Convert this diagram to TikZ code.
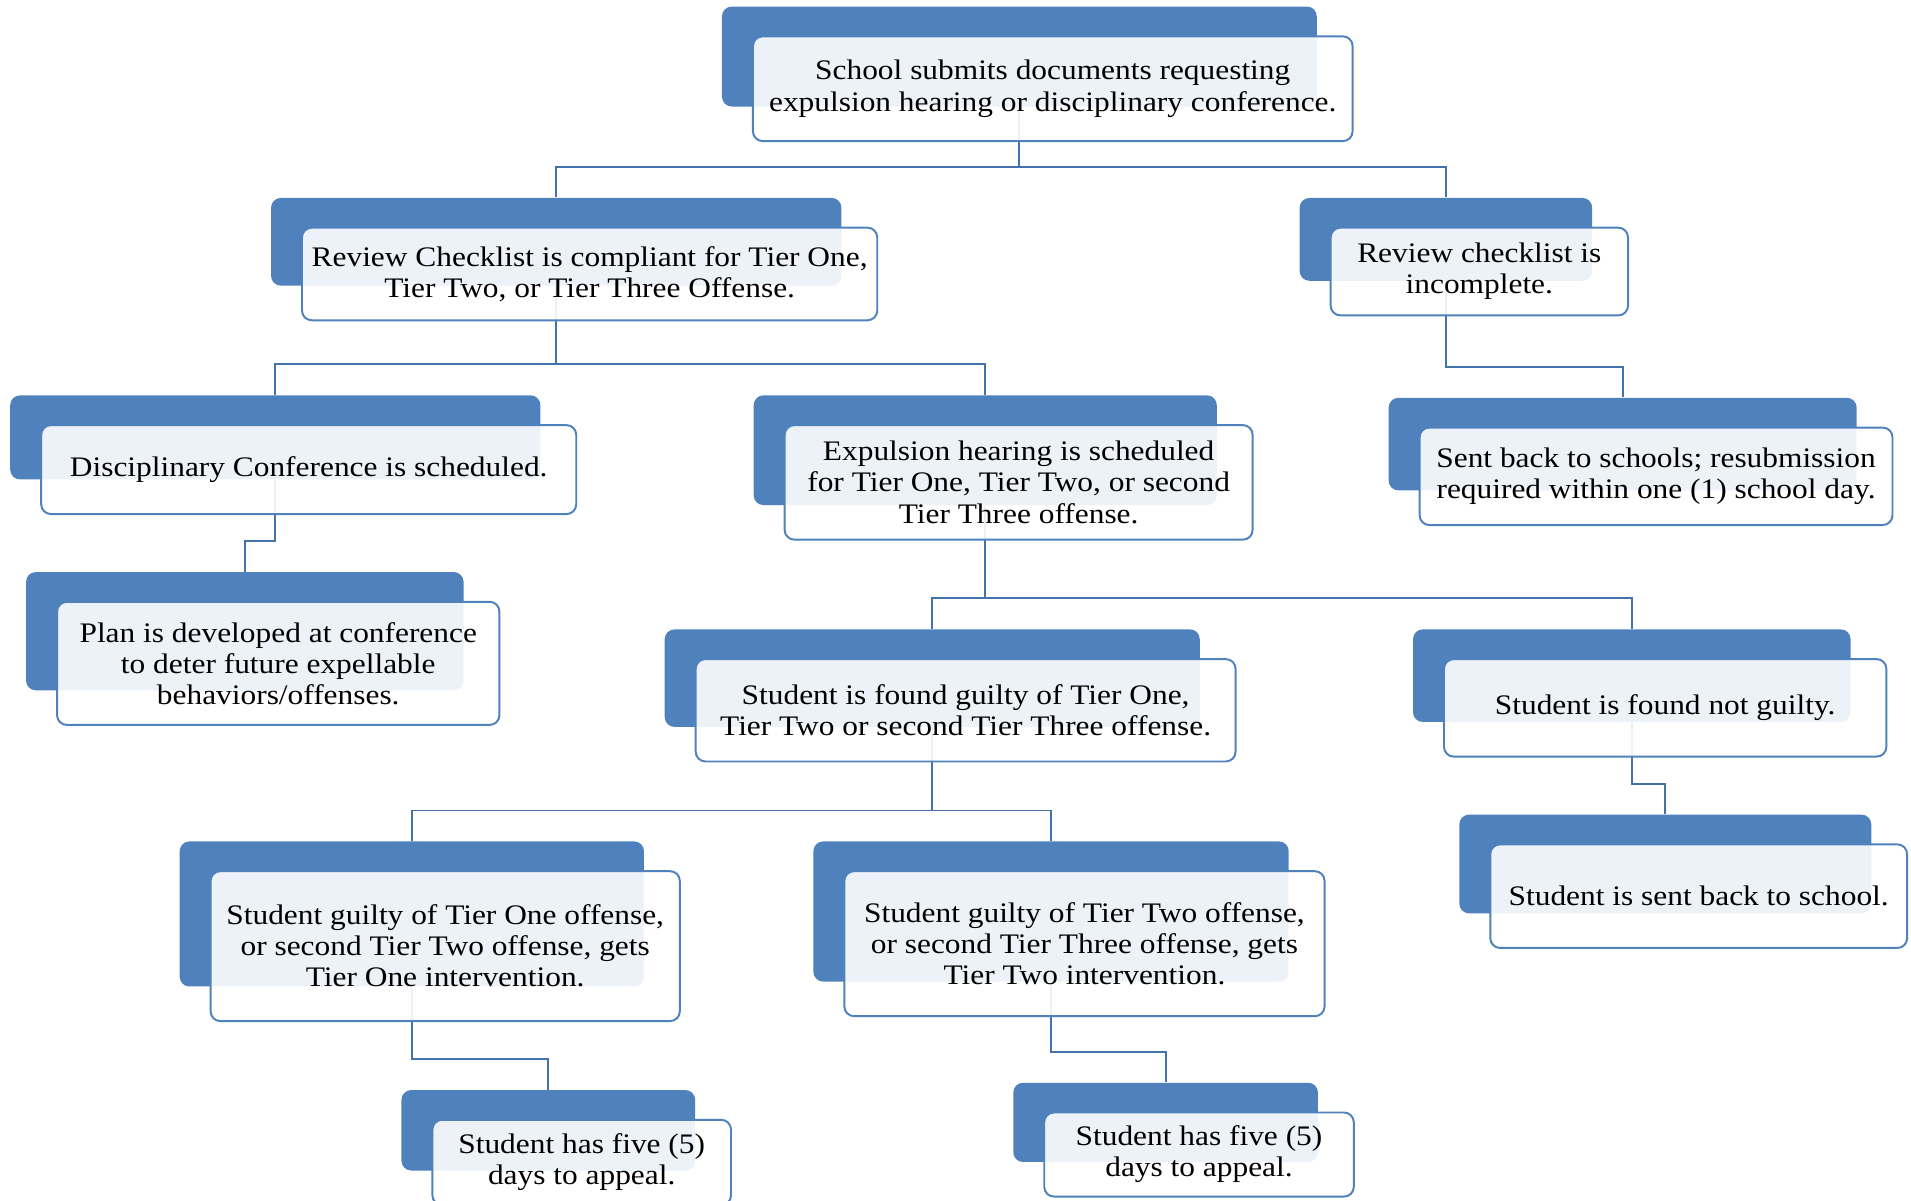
\documentclass[tikz,border=0pt]{standalone}
\usepackage{fontspec}
\setmainfont[FakeStretch=1.11]{Liberation Serif}
\usetikzlibrary{calc}
\pgfdeclarelayer{bg}
\pgfsetlayers{bg,main}
\definecolor{accent}{RGB}{79,129,189}
\definecolor{connc}{RGB}{68,114,170}
\tikzset{
  bluebox/.style={fill=accent, draw=none, rounded corners=4pt, inner sep=0pt},
  frontbox/.style={fill=white, fill opacity=0.9, text opacity=1, draw=accent, line width=0.8pt,
    rounded corners=4pt, inner sep=0pt},
  boxtext/.style={align=center, inner sep=0pt, font=\fontsize{11.6}{12.75}\selectfont},
  conn/.style={draw=connc, line width=0.8pt}
}
\newcommand\tn[6]{%
  \node[bluebox, anchor=north west, minimum width={(#4-#2)*0.5pt}, minimum height={(#5-#3)*0.5pt}] (#1b) at (#2,#3) {};
  \node[frontbox, anchor=north west, minimum width={(#4-#2+4)*0.5pt}, minimum height={(#5-#3+4)*0.5pt}] (#1) at (#2+25,#3+24) {};
  \node[boxtext] (#1t) at (#1.center) {#6};
}
\newcommand\link[2]{%
  \draw[conn] (#1b.south) |- ($(#2b.north)+(0,-25)$) -- (#2b.north);
}
\begin{document}
\begin{tikzpicture}[x=0.5pt, y=-0.5pt]
\useasboundingbox (0,0) rectangle (1568,985);
\tn{A}{592}{5}{1080}{87}{School submits documents requesting\\expulsion hearing or disciplinary conference.}
\tn{B}{222}{162}{690}{234}{Review Checklist is compliant for Tier One,\\Tier Two, or Tier Three Offense.}
\tn{C}{1066}{162}{1306}{230}{Review checklist is\\incomplete.}
\tn{D}{8}{324}{443}{393}{Disciplinary Conference is scheduled.}
\tn{E}{21}{469}{380}{566}{Plan is developed at conference\\to deter future expellable\\behaviors/offenses.}
\tn{F}{618}{324}{998}{414}{Expulsion hearing is scheduled\\for Tier One, Tier Two, or second\\Tier Three offense.}
\tn{G}{545}{516}{984}{596}{Student is found guilty of Tier One,\\Tier Two or second Tier Three offense.}
\tn{H}{1159}{516}{1518}{592}{Student is found not guilty.}
\tn{I}{1197}{668}{1535}{749}{Student is sent back to school.}
\tn{J}{1139}{326}{1523}{402}{Sent back to schools; resubmission\\required within one (1) school day.}
\tn{K}{147}{690}{528}{809}{Student guilty of Tier One offense,\\or second Tier Two offense, gets\\Tier One intervention.}
\tn{L}{667}{690}{1057}{805}{Student guilty of Tier Two offense,\\or second Tier Three offense, gets\\Tier Two intervention.}
\tn{M}{329}{894}{570}{960}{Student has five (5)\\days to appeal.}
\tn{N}{831}{888}{1081}{953}{Student has five (5)\\days to appeal.}
\begin{pgfonlayer}{bg}
\link{A}{B}
\link{A}{C}
\link{B}{D}
\link{B}{F}
\link{C}{J}
\link{D}{E}
\link{F}{G}
\link{F}{H}
\link{G}{K}
\link{G}{L}
\link{H}{I}
\link{K}{M}
\link{L}{N}
\end{pgfonlayer}
\end{tikzpicture}
\end{document}
